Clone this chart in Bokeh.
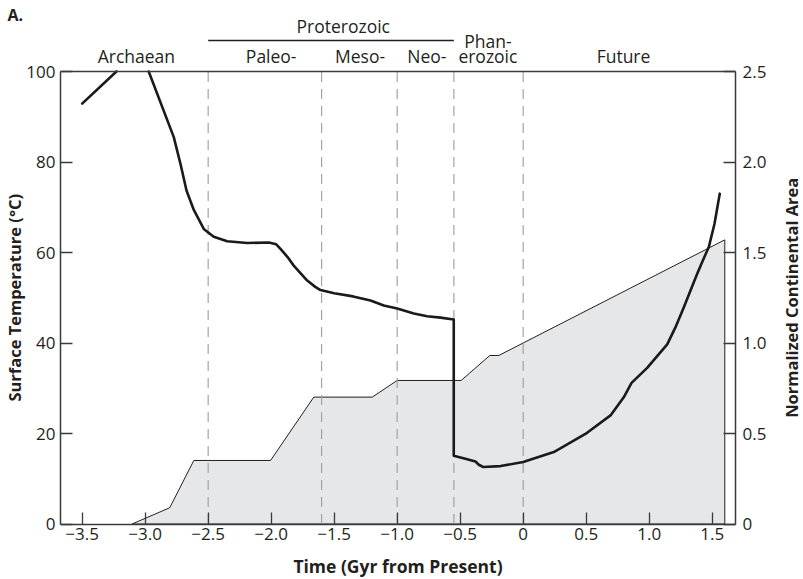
from math import pi
from bokeh.plotting import figure
from bokeh.models import Range1d, LinearAxis, FixedTicker, Label
from bokeh.embed import file_html
from bokeh.resources import INLINE

NaN = float("nan")

# ---------------- data ----------------
time_ticks = [-3.5, -3.0, -2.5, -2.0, -1.5, -1.0, -0.5, 0.0, 0.5, 1.0, 1.5]
time_tick_labels = ["\u22123.5", "\u22123.0", "\u22122.5", "\u22122.0", "\u22121.5",
                    "\u22121.0", "\u22120.5", "0", "0.5", "1.0", "1.5"]
temp_ticks = [0, 20, 40, 60, 80, 100]
area_ticks = [0, 0.5, 1.0, 1.5, 2.0, 2.5]
area_tick_labels = ["0", "0.5", "1.0", "1.5", "2.0", "2.5"]

# Surface temperature (deg C) vs time (Gyr from present); the curve leaves the
# top of the panel between -3.23 and -2.97 Gyr
temp_time = [-3.5, -3.228, NaN, -2.972, -2.773, -2.72, -2.672, -2.614, -2.535,
             -2.456, -2.349, -2.19, -2.019, -1.96, -1.926, -1.87, -1.821, -1.714,
             -1.65, -1.609, -1.5, -1.35, -1.212, -1.106, -1.0, -0.868, -0.762,
             -0.656, -0.551, -0.551, -0.444, -0.379, -0.352, -0.317, -0.18, 0.0,
             0.243, 0.494, 0.693, 0.798, 0.86, 0.984, 1.143, 1.209, 1.275, 1.328,
             1.381, 1.425, 1.473, 1.518, 1.56]
temp_vals = [92.9, 100.0, NaN, 100.0, 85.5, 79.6, 73.7, 69.4, 65.2,
             63.5, 62.5, 62.1, 62.2, 61.8, 60.8, 59.0, 57.1, 53.8,
             52.4, 51.7, 51.0, 50.3, 49.4, 48.3, 47.6, 46.5, 45.9,
             45.6, 45.2, 15.1, 14.3, 13.8, 13.1, 12.6, 12.8, 13.7,
             15.9, 19.9, 24.0, 28.0, 31.2, 34.5, 39.7, 43.5, 47.9, 51.6,
             55.3, 58.2, 61.2, 66.3, 73.0]

# Normalized continental area vs time
area_time = [-3.104, -2.805, -2.614, -2.005, -1.662, -1.198, -1.0, -0.492,
             -0.265, -0.194, 1.6]
area_vals = [0.0, 0.09, 0.351, 0.351, 0.701, 0.701, 0.793, 0.793,
             0.931, 0.931, 1.57]

# Eon / era boundaries and labels
boundary_times = [-2.5, -1.6, -1.0, -0.55, 0.0]
era_names = ["Archaean", "Paleo-", "Meso-", "Neo-", "erozoic", "Future"]
era_centers = [-3.07, -2.0, -1.295, -0.765, -0.28, 0.796]
upper_names = ["Proterozoic", "Phan-"]
upper_centers = [-1.428, -0.28]

# ---------------- layout ----------------
W, H = 803, 579
PX0, PX1 = 60.0, 735.0        # panel left / right in pixels
PYT, PYB = 71.0, 523.5        # panel top / bottom in pixels
X0, X1 = -3.672, 1.685
Y0, Y1 = 0.0, 100.0
A1 = 2.5
px_x = (PX1 - PX0) / (X1 - X0)
px_y = (PYB - PYT) / (Y1 - Y0)

def dx(px):
    return X0 + (px - PX0) / px_x

def dy(py):
    return Y0 + (PYB - py) / px_y

FONT = "Open Sans"
TXT = "#231f20"
AX = "#3a3a3a"
BASE = 0.4   # correction (in em) between requested and drawn baseline

p = figure(width=W, height=H,
           x_range=Range1d(dx(0), dx(W)), y_range=Range1d(dy(H), dy(0)),
           output_backend="svg", toolbar_location=None, min_border=0)
scale = A1 / (Y1 - Y0)
p.extra_y_ranges = {"area": Range1d(dy(H) * scale, dy(0) * scale)}
p.xgrid.visible = False
p.ygrid.visible = False
p.outline_line_color = None
p.title.visible = False
p.background_fill_color = "white"
p.border_fill_color = "white"

# continental area fill
p.patch(area_time + [area_time[-1]], area_vals + [0.0], y_range_name="area",
        fill_color="#e6e7e8", line_color="#231f20", line_width=1.0)

# boundary dashed lines
n = len(boundary_times)
p.segment(x0=boundary_times, y0=[Y0] * n, x1=boundary_times, y1=[Y1] * n,
          line_color="#a3a3a3", line_width=1.2, line_dash="10 7")

# temperature
p.line(temp_time, temp_vals, line_color="#1a1a1a", line_width=2.6,
       line_join="round", line_cap="round")

# axes
def style_axis(ax, standoff):
    ax.major_tick_in = 12
    ax.major_tick_out = 0
    ax.minor_tick_in = 0
    ax.minor_tick_out = 0
    ax.axis_line_color = AX
    ax.axis_line_width = 1.5
    ax.major_tick_line_color = AX
    ax.major_tick_line_width = 1.3
    ax.major_label_text_font = FONT
    ax.major_label_text_font_size = "17px"
    ax.major_label_text_color = TXT
    ax.major_label_standoff = standoff
    ax.axis_label = None

xa = p.xaxis[0]
style_axis(xa, 4)
xa.ticker = FixedTicker(ticks=time_ticks)
xa.major_label_overrides = {t: l for t, l in zip(time_ticks, time_tick_labels)}
xa.fixed_location = Y0
xa.bounds = (X0, X1)

ya = p.yaxis[0]
style_axis(ya, 5)
ya.ticker = FixedTicker(ticks=temp_ticks)
ya.fixed_location = X0
ya.bounds = (Y0, Y1)

ra = LinearAxis(y_range_name="area")
style_axis(ra, 7)
ra.ticker = FixedTicker(ticks=area_ticks)
ra.major_label_overrides = {t: l for t, l in zip(area_ticks, area_tick_labels)}
ra.fixed_location = X1
ra.bounds = (0, A1)
p.add_layout(ra, "right")

ta = LinearAxis()
style_axis(ta, 0)
ta.ticker = FixedTicker(ticks=[])
ta.major_tick_in = 0
ta.major_label_text_font_size = "0px"
ta.fixed_location = Y1
ta.bounds = (X0, X1)
p.add_layout(ta, "above")

# texts (positions given by the wanted baseline in pixels)
def lab(text, x, y, size=17.5, **kw):
    opts = dict(text_font=FONT, text_color=TXT, text_font_size=f"{size}px",
                text_align="center", text_baseline="alphabetic")
    opts.update(kw)
    p.add_layout(Label(x=x, y=y, text=text, **opts))

def hlab(text, x, base_py, size=17.5, **kw):
    lab(text, x, dy(base_py - BASE * size), size=size, **kw)

def vlab(text, base_px, size, **kw):
    lab(text, dx(base_px - BASE * size), (Y0 + Y1) / 2, size=size,
        angle=pi / 2, **kw)

hlab("Time (Gyr from Present)", (X0 + X1) / 2, 572, size=17.5,
     text_font_style="bold")
vlab("Surface Temperature (\u00b0C)", 20.5, 16.5, text_font_style="bold")
vlab("Normalized Continental Area", 798, 16.5, text_font_style="bold")

for name, c in zip(era_names, era_centers):
    hlab(name, c, 62)
hlab(upper_names[0], upper_centers[0], 32)
hlab(upper_names[1], upper_centers[1], 47)

ybar = dy(40)
p.line([boundary_times[0], boundary_times[3]], [ybar, ybar],
       line_color="#231f20", line_width=1.3)

hlab("A.", dx(7), 21, size=16.0, text_font_style="bold", text_align="left")

open("out.html", "w").write(file_html(p, INLINE))
